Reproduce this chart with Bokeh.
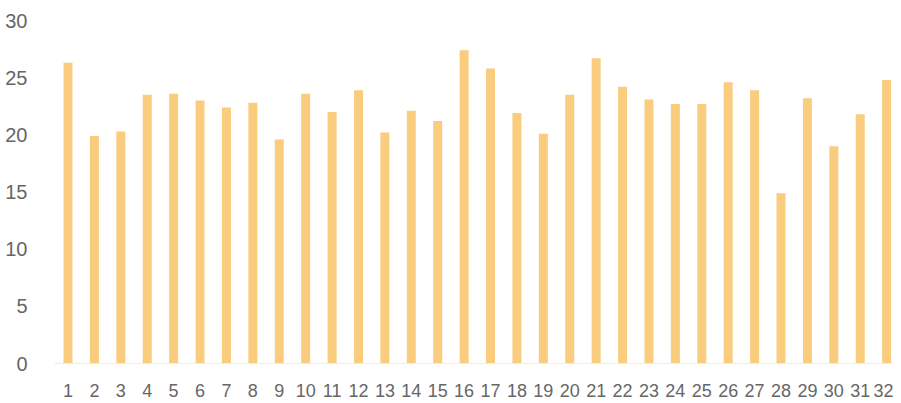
from bokeh.plotting import figure
from bokeh.models import Range1d, FixedTicker, ColumnDataSource
from bokeh.embed import file_html
from bokeh.resources import INLINE

days = list(range(1, 33))
values = [26.3, 19.9, 20.3, 23.5, 23.6, 23.0, 22.4, 22.8, 19.6, 23.6,
          22.0, 23.9, 20.2, 22.1, 21.2, 27.4, 25.8, 21.9, 20.1, 23.5,
          26.7, 24.2, 23.1, 22.7, 22.7, 24.6, 23.9, 14.9, 23.2, 19.0,
          21.8, 24.8]
y_ticks = [0, 5, 10, 15, 20, 25, 30]

src = ColumnDataSource(dict(x=days, top=values))

p = figure(width=893, height=400, output_backend="svg", toolbar_location=None,
           x_range=Range1d(0.489, 32.26), y_range=Range1d(0, 30),
           min_border_left=54, min_border_right=0, min_border_top=20,
           min_border_bottom=37)

p.vbar(x="x", top="top", width=0.34, bottom=0, source=src,
       fill_color="#F9CC7E", line_color=None)

p.outline_line_color = None
p.xgrid.visible = False
p.ygrid.visible = False

p.xaxis.ticker = FixedTicker(ticks=days)
p.yaxis.ticker = FixedTicker(ticks=y_ticks)
p.xaxis.minor_tick_line_color = None
p.yaxis.minor_tick_line_color = None
p.xaxis.major_tick_line_color = None
p.yaxis.major_tick_line_color = None
p.yaxis.axis_line_color = None
p.xaxis.axis_line_color = "#EDEDED"
p.xaxis.axis_line_width = 1

for ax, size in ((p.xaxis, "18px"), (p.yaxis, "20px")):
    ax.major_label_text_font = "Liberation Sans"
    ax.major_label_text_font_size = size
    ax.major_label_text_color = "#666666"

p.xaxis.major_label_standoff = 14
p.yaxis.major_label_standoff = 21

open("out.html", "w").write(file_html(p, INLINE))
